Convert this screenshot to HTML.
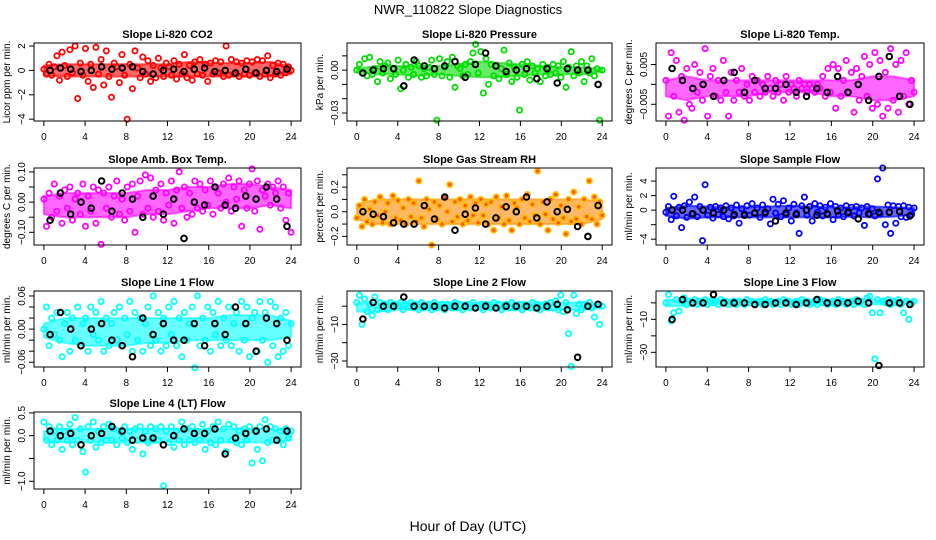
<!DOCTYPE html>
<html><head><meta charset="utf-8"><style>
html,body{margin:0;padding:0;background:#fff;}
svg{display:block;font-family:"Liberation Sans",Arial,sans-serif;}
</style></head><body>
<svg id="chart" width="936" height="540" viewBox="0 0 936 540" xmlns="http://www.w3.org/2000/svg">
<text x="468" y="14" font-size="13" text-anchor="middle">NWR_110822  Slope Diagnostics</text>
<text x="468" y="531" font-size="14" text-anchor="middle">Hour of Day (UTC)</text>
</svg>
<script>
// ---- data arrays ----
const xTicks = [0,4,8,12,16,20,24];
const bandHours = [0,2,4,6,8,10,12,14,16,18,20,22,24];
const co2Vals = [0.1,-0.3,0.5,-0.4,0.3,1.2,-0.8,1.5,0.4,-0.5,1.7,-0.2,2.0,-2.3,0.6,-0.4,1.8,-0.9,0.5,-1.4,1.9,-0.3,0.9,-1.2,1.6,-0.5,-2.2,0.6,0.3,-1.0,1.3,-0.4,-4.0,0.5,-1.5,1.6,0.2,-0.6,1.1,-0.3,0.8,-0.9,0.4,-0.6,1.0,0.2,-0.5,0.6,0.3,-0.4,0.8,-0.7,0.5,-0.3,1.3,-0.6,0.4,-0.8,0.7,-0.3,0.9,-0.4,0.5,-0.9,0.6,-0.3,0.8,-0.2,0.7,-0.5,2.0,-0.4,0.9,-0.3,0.7,-0.5,0.6,-0.3,0.8,-0.4,0.7,-0.2,0.9,-0.5,0.8,-0.3,1.2,-0.6,0.4,-0.3,0.6,-0.4,0.5,-0.2,0.3,0.0];
const co2Hourly = [0.0,0.2,0.1,-0.1,0.0,0.3,0.1,0.2,0.3,-0.1,-0.3,0.0,0.1,-0.1,0.1,0.2,-0.1,0.0,-0.2,0.1,-0.2,0.0,-0.1,0.1];
const co2BandLo = [-0.4,-0.5,-0.5,-0.5,-0.5,-0.5,-0.5,-0.5,-0.5,-0.5,-0.5,-0.5,-0.3];
const co2BandHi = [0.4,0.5,0.5,0.5,0.5,0.5,0.5,0.7,0.6,0.6,0.6,0.7,0.3];
const presVals = [0.0,0.004,-0.002,0.008,-0.004,0.009,-0.003,0.001,-0.008,0.006,-0.002,0.003,0.005,-0.006,0.001,-0.003,0.007,-0.013,0.0,0.004,-0.005,0.002,-0.003,0.006,0.003,-0.005,0.001,-0.004,0.002,0.007,-0.003,-0.035,0.008,-0.004,0.002,0.006,-0.005,0.009,-0.012,0.003,0.001,-0.004,0.004,-0.003,0.006,0.012,0.018,-0.002,0.013,-0.016,0.008,-0.010,0.004,-0.004,0.003,-0.006,0.001,0.014,-0.003,0.005,-0.008,0.002,-0.005,-0.028,0.004,-0.003,0.006,-0.007,0.003,-0.002,0.001,-0.008,0.004,-0.004,0.002,-0.003,0.004,-0.002,0.003,-0.005,0.006,-0.012,0.002,0.013,-0.004,0.003,-0.002,0.006,-0.008,0.003,-0.002,0.008,-0.004,0.001,-0.035,0.0];
const presHourly = [-0.002,0.0,0.001,0.001,-0.011,0.007,0.003,0.001,0.003,0.006,-0.005,0.004,0.012,0.003,-0.001,0.0,0.001,-0.006,0.001,-0.009,0.001,0.0,0.0,-0.010];
const presBandLo = [-0.001,-0.003,-0.003,-0.004,-0.003,-0.004,-0.005,-0.005,-0.004,-0.003,-0.003,-0.003,-0.001];
const presBandHi = [0.001,0.003,0.003,0.003,0.003,0.004,0.006,0.005,0.004,0.003,0.002,0.002,0.001];
const tempVals = [0.001,-0.008,0.008,-0.003,0.006,-0.007,0.002,-0.009,0.004,-0.005,-0.006,0.005,-0.002,0.003,-0.004,0.009,-0.008,0.002,0.004,-0.003,0.001,-0.004,0.006,-0.002,-0.008,0.003,-0.004,0.001,-0.002,0.004,-0.003,0.0,-0.004,0.002,-0.002,0.001,-0.003,0.0,-0.002,0.002,-0.001,-0.003,0.001,-0.002,0.0,-0.004,0.002,-0.002,0.0,-0.001,-0.003,0.001,-0.001,0.0,-0.002,0.0,-0.001,-0.002,0.0,-0.001,0.002,-0.003,0.004,-0.002,0.005,-0.006,0.004,-0.003,0.001,0.006,-0.002,0.003,-0.007,0.004,-0.004,0.002,0.007,-0.003,0.005,-0.006,0.008,-0.005,0.006,-0.008,0.003,-0.006,0.009,-0.004,0.005,-0.007,0.006,-0.003,0.008,-0.005,0.001,-0.002];
const tempHourly = [0.004,0.001,-0.001,0.0,-0.003,0.001,0.003,-0.002,0.001,-0.001,-0.001,0.0,-0.002,-0.003,-0.001,-0.002,0.002,-0.002,0.0,-0.004,0.002,0.007,-0.003,-0.005];
const tempBandLo = [-0.003,-0.004,-0.003,-0.003,-0.003,-0.002,-0.002,-0.002,-0.003,-0.003,-0.004,-0.004,-0.003];
const tempBandHi = [0.001,0.002,0.001,0.001,0.001,0.001,0.001,0.001,0.001,0.001,0.002,0.002,0.001];
const ambVals = [0.01,-0.08,0.03,-0.05,0.06,-0.03,0.02,-0.07,0.04,-0.02,0.05,-0.06,0.01,0.03,-0.04,0.06,-0.08,0.02,-0.03,0.05,-0.07,0.04,-0.14,0.03,-0.02,0.05,-0.05,0.02,0.07,-0.04,0.01,-0.06,0.05,-0.03,0.06,-0.10,0.02,0.07,-0.04,0.09,-0.02,0.08,-0.05,0.04,-0.03,0.06,-0.06,0.03,-0.01,0.07,-0.07,0.04,0.10,-0.02,0.05,-0.05,0.03,-0.04,0.07,-0.02,0.06,-0.03,0.04,-0.01,0.07,-0.04,0.05,0.03,-0.02,0.06,0.0,0.08,-0.03,0.05,0.01,0.07,-0.08,0.04,-0.02,0.06,0.11,-0.03,0.07,-0.09,0.04,0.02,0.06,-0.01,0.05,0.03,0.07,-0.02,0.05,-0.06,0.03,-0.10];
const ambHourly = [-0.06,0.03,-0.04,0.00,-0.02,0.07,-0.03,0.03,0.01,-0.05,0.02,-0.04,0.01,-0.12,0.00,-0.01,0.05,-0.01,-0.02,0.02,0.01,0.05,0.01,-0.08];
const ambBandLo = [-0.04,-0.05,-0.05,-0.05,-0.05,-0.04,-0.04,-0.03,-0.02,-0.02,-0.02,-0.01,-0.02];
const ambBandHi = [0.02,0.03,0.03,0.03,0.03,0.04,0.04,0.05,0.05,0.06,0.06,0.05,0.04];
const rhVals = [-0.05,0.05,-0.12,0.1,-0.08,0.02,-0.1,0.08,-0.03,0.12,-0.09,0.0,0.07,-0.1,0.13,-0.05,0.09,-0.07,0.03,-0.1,0.1,-0.04,0.07,-0.08,0.25,-0.05,-0.12,0.1,0.02,-0.27,0.08,-0.06,0.05,-0.1,0.12,0.0,0.22,-0.08,0.08,-0.04,0.1,-0.1,0.05,-0.07,0.12,-0.03,0.07,-0.09,0.1,-0.03,0.06,-0.1,0.08,-0.15,0.12,-0.05,0.04,-0.1,0.13,-0.07,-0.15,0.07,0.03,-0.1,0.1,-0.05,0.14,-0.08,0.06,-0.03,0.33,-0.1,0.08,-0.02,-0.15,0.1,-0.06,0.14,-0.09,0.05,-0.05,-0.18,0.1,-0.08,0.16,-0.06,0.04,-0.1,0.1,-0.04,0.25,-0.06,0.12,-0.1,0.08,-0.03];
const rhHourly = [0.0,-0.02,-0.04,-0.09,-0.1,-0.1,0.05,-0.06,0.12,-0.15,-0.02,0.03,-0.1,-0.05,0.04,0.0,0.12,-0.05,0.08,0.0,0.02,-0.12,-0.2,0.05];
const rhBandLo = [-0.06,-0.1,-0.1,-0.1,-0.1,-0.1,-0.1,-0.1,-0.1,-0.1,-0.1,-0.1,-0.06];
const rhBandHi = [0.06,0.1,0.1,0.1,0.1,0.1,0.1,0.1,0.1,0.1,0.1,0.1,0.08];
const sfVals = [-0.3,0.5,-1.3,1.9,-0.8,0.4,-2.4,0.6,-1.0,1.1,-0.5,1.8,-0.9,0.5,-4.2,3.5,-0.7,0.4,-1.1,0.5,-0.6,0.3,-0.9,0.6,-1.2,0.3,-0.8,0.7,-1.8,0.2,-0.5,0.6,-0.7,0.9,-0.4,0.3,-1.0,0.7,-0.5,0.2,-1.9,1.5,-0.4,0.8,-0.9,1.3,-0.6,0.3,-1.5,0.8,-0.4,-3.2,0.6,1.8,-0.7,0.5,-1.5,0.9,-0.3,0.6,-0.8,0.4,-0.6,0.9,-1.3,0.5,-0.7,0.3,-0.9,0.6,-0.4,0.4,-0.8,0.5,-0.4,0.3,-2.1,0.5,-0.6,0.2,-0.8,4.3,-0.5,5.8,-2.0,0.7,-3.2,0.6,-1.8,0.5,-0.9,0.6,-1.0,0.4,-0.6,0.3];
const sfHourly = [0.0,0.0,-0.5,0.0,-0.4,0.0,-0.6,-0.7,-0.4,-0.3,-1.5,-0.4,-0.6,0.0,-0.7,-0.5,-0.1,-0.3,-1.2,-0.5,-0.3,-0.3,-0.2,-0.8];
const sfBandLo = [-0.8,-1.2,-1.0,-1.0,-1.0,-1.0,-1.0,-1.0,-1.0,-0.9,-1.0,-0.9,-0.6];
const sfBandHi = [0.3,0.6,0.5,0.4,0.4,0.5,0.6,0.5,0.4,0.4,0.5,0.4,0.3];
const l1Vals = [0.0,0.04,-0.03,0.02,-0.01,0.03,-0.02,-0.05,0.01,0.03,-0.04,0.02,-0.02,0.04,-0.03,0.01,0.02,-0.04,0.04,-0.01,0.03,-0.02,0.05,-0.04,0.02,-0.03,0.01,0.03,-0.02,0.04,-0.03,0.02,-0.01,0.05,-0.04,0.03,-0.02,0.02,-0.04,0.01,0.04,-0.03,0.06,-0.02,0.03,-0.04,0.02,-0.03,0.04,-0.01,0.05,-0.03,0.02,-0.05,0.03,-0.02,0.01,0.04,-0.07,0.06,-0.03,0.02,-0.02,0.04,-0.04,0.03,-0.01,0.05,-0.03,0.02,-0.02,0.04,-0.03,0.01,0.03,-0.04,0.05,-0.02,0.04,-0.05,0.02,0.03,-0.04,0.05,-0.02,0.03,-0.06,0.05,-0.03,0.04,-0.05,0.02,-0.04,0.03,-0.03,0.01];
const l1Hourly = [-0.01,0.03,0.0,-0.03,0.00,0.01,-0.02,-0.03,-0.05,0.02,-0.01,0.01,-0.02,-0.02,0.01,-0.03,0.01,-0.01,0.04,0.01,-0.04,0.02,0.01,-0.02];
const l1BandLo = [-0.015,-0.025,-0.03,-0.03,-0.03,-0.025,-0.025,-0.02,-0.02,-0.02,-0.02,-0.02,-0.015];
const l1BandHi = [0.01,0.02,0.02,0.02,0.02,0.02,0.02,0.02,0.02,0.025,0.025,0.025,0.015];
const l2Vals = [2,6,-10,4,-3,1,-5,5,-2,2,-1,1,-2,2,-1,1,0,2,-2,1,0,2,-1,1,-2,2,-1,0,1,-2,2,-1,0,1,-2,1,0,-1,2,-1,1,-2,0,1,-1,2,-1,0,1,-2,1,0,-1,2,-1,1,-2,0,1,-1,2,-1,0,1,-2,1,0,-1,2,-1,1,-2,0,1,-1,2,-1,3,-2,6,-3,2,-15,-33,6,-4,1,-2,1,0,2,-1,-6,1,-10,0];
const l2Hourly = [-7,2,0,0,5,0,0,0,-1,0,0,-1,0,-1,0,0,0,-1,0,1,-2,-28,0,1];
const l2BandLo = [-3,-3,-2,-2,-2,-2,-2,-2,-2,-2,-2,-2,-1];
const l2BandHi = [2,2,2,2,2,2,2,2,2,2,2,2,1];
const l3Vals = [0,5,-11,-6,2,-5,1,3,-1,1,0,2,-1,1,0,2,-1,1,0,1,-1,2,0,1,-1,0,1,-1,1,0,-1,2,0,1,-1,0,1,-1,2,0,1,-1,0,1,-1,2,0,1,-1,0,1,-1,2,0,1,-1,0,1,-1,2,0,1,-1,0,1,-1,2,0,1,-1,0,1,-1,2,0,1,-1,3,4,-6,-34,2,-6,1,0,2,-1,1,0,2,-1,-6,1,-10,0,1];
const l3Hourly = [-10,2,0,0,5,0,0,0,-1,-1,0,0,-1,0,2,0,0,0,1,0,-38,0,0,-1];
const l3BandLo = [-2,-2,-1,-1,-1,-1,-1,-1,-1,-1,-1,-1,-1];
const l3BandHi = [2,2,2,2,2,2,2,2,2,2,2,2,1];
const l4Vals = [0.3,-0.1,0.2,-0.2,0.1,-0.1,0.2,-0.3,0.1,-0.1,0.25,-0.2,0.4,-0.1,0.15,-0.35,-0.8,0.2,-0.1,0.3,-0.25,0.1,-0.15,0.2,-0.1,0.25,-0.1,0.15,-0.2,0.1,-0.05,0.2,-0.15,0.1,-0.3,0.15,-0.1,0.2,-0.4,0.1,-0.15,0.2,-0.1,0.15,-0.1,0.2,-1.1,0.1,-0.15,0.2,-0.25,0.1,-0.1,0.3,-0.2,0.15,-0.1,0.2,-0.15,0.1,-0.1,0.25,-0.3,0.1,-0.15,0.2,-0.2,0.3,-0.1,0.15,-0.35,0.25,-0.1,0.2,-0.15,0.1,-0.2,0.15,-0.1,0.2,-0.6,0.1,-0.3,0.2,-0.55,0.35,-0.15,0.2,-0.1,0.15,-0.1,0.1,-0.2,0.15,-0.05,0.1];
const l4Hourly = [0.1,0.0,0.05,-0.2,0.0,0.05,0.2,0.1,-0.1,-0.05,-0.05,-0.2,0.0,0.15,0.05,0.05,0.15,-0.4,-0.05,0.05,0.1,0.15,-0.1,0.1];
const l4BandLo = [-0.1,-0.15,-0.15,-0.15,-0.15,-0.15,-0.15,-0.15,-0.15,-0.15,-0.15,-0.15,-0.1];
const l4BandHi = [0.1,0.15,0.15,0.15,0.15,0.15,0.15,0.15,0.15,0.15,0.15,0.15,0.1];

// ---- layout ----
const NS = "http://www.w3.org/2000/svg";
const svg = document.getElementById('chart');
const cols = [[34,301],[347,612],[656,924]];
const rows = [[43,121],[168,245],[291,367],[412,489]];
const panels = [
 {name:'co2',title:'Slope Li-820 CO2',ylab:'Licor ppm per min.',c:0,r:0,y0:-4.15,y1:2.25,ticks:[2,0,-2,-4],labels:['2','0','\u22122','\u22124'],vals:co2Vals,hr:co2Hourly,lo:co2BandLo,hi:co2BandHi,col:'#ff0000',fill:'none',band:'#ff0000'},
 {name:'pressure',title:'Slope Li-820 Pressure',ylab:'kPa per min.',c:1,r:0,y0:-0.0356,y1:0.019,ticks:[0.01,0,-0.01,-0.02,-0.03],labels:['','0.00','','','\u22120.03'],vals:presVals,hr:presHourly,lo:presBandLo,hi:presBandHi,col:'#00dd00',fill:'none',band:'#00dd00'},
 {name:'li820-temp',title:'Slope Li-820 Temp.',ylab:'degrees C per min.',c:2,r:0,y0:-0.0092,y1:0.0104,ticks:[0.005,0,-0.005],labels:['0.005','','\u22120.005'],vals:tempVals,hr:tempHourly,lo:tempBandLo,hi:tempBandHi,col:'#ff00ff',fill:'none',band:'#ff00ff'},
 {name:'amb-box-temp',title:'Slope Amb. Box Temp.',ylab:'degrees C per min.',c:0,r:1,y0:-0.142,y1:0.113,ticks:[0.1,0.05,0,-0.05,-0.1],labels:['0.10','','0.00','','\u22120.10'],vals:ambVals,hr:ambHourly,lo:ambBandLo,hi:ambBandHi,col:'#ff00ff',fill:'none',band:'#ff00ff'},
 {name:'gas-stream-rh',title:'Slope Gas Stream RH',ylab:'percent per min.',c:1,r:1,y0:-0.27,y1:0.355,ticks:[0.3,0.2,0.1,0,-0.1,-0.2],labels:['','0.2','','0.0','','\u22120.2'],vals:rhVals,hr:rhHourly,lo:rhBandLo,hi:rhBandHi,col:'#ffbb00',fill:'#ff5500',band:'#ff8a00'},
 {name:'sample-flow',title:'Slope Sample Flow',ylab:'ml/min per min.',c:2,r:1,y0:-4.8,y1:5.8,ticks:[4,2,0,-2,-4],labels:['4','2','0','','\u22124'],vals:sfVals,hr:sfHourly,lo:sfBandLo,hi:sfBandHi,col:'#0000ff',fill:'none',band:'#0000ff'},
 {name:'line1-flow',title:'Slope Line 1 Flow',ylab:'ml/min per min.',c:0,r:2,y0:-0.0686,y1:0.069,ticks:[0.06,0.04,0.02,0,-0.02,-0.04,-0.06],labels:['0.06','','','0.00','','','\u22120.06'],vals:l1Vals,hr:l1Hourly,lo:l1BandLo,hi:l1BandHi,col:'#00ffff',fill:'none',band:'#00ffff'},
 {name:'line2-flow',title:'Slope Line 2 Flow',ylab:'ml/min per min.',c:1,r:2,y0:-33.3,y1:8.3,ticks:[0,-10,-20,-30],labels:['','\u221210','','\u221230'],vals:l2Vals,hr:l2Hourly,lo:l2BandLo,hi:l2BandHi,col:'#00ffff',fill:'none',band:'#00ffff'},
 {name:'line3-flow',title:'Slope Line 3 Flow',ylab:'ml/min per min.',c:2,r:2,y0:-38.9,y1:7.2,ticks:[0,-10,-20,-30],labels:['','\u221210','','\u221230'],vals:l3Vals,hr:l3Hourly,lo:l3BandLo,hi:l3BandHi,col:'#00ffff',fill:'none',band:'#00ffff'},
 {name:'line4-flow',title:'Slope Line 4 (LT) Flow',ylab:'ml/min per min.',c:0,r:3,y0:-1.17,y1:0.52,ticks:[0.5,0,-0.5,-1],labels:['0.5','0.0','','\u22121.0'],vals:l4Vals,hr:l4Hourly,lo:l4BandLo,hi:l4BandHi,col:'#00ffff',fill:'none',band:'#00ffff'}
];

function mk(tag, attrs, parent){
  const e = document.createElementNS(NS, tag);
  for (const k in attrs) e.setAttribute(k, attrs[k]);
  (parent||svg).appendChild(e);
  return e;
}

panels.forEach(p=>{
  const [L,R] = cols[p.c], [T,B] = rows[p.r];
  const xs = v => L + (v + 0.96) / 25.92 * (R - L);
  const ys = v => B - (v - p.y0) / (p.y1 - p.y0) * (B - T);
  const g = mk('g', {});
  
  

  const t = mk('text', {x:(L+R)/2, y:T-5, 'font-size':11, 'font-weight':'bold', 'text-anchor':'middle'}, g);
  t.textContent = p.title;
  
  

  // dense core band of the point cloud
  let d = '';
  bandHours.forEach((h,i)=>{ d += (i?'L':'M') + xs(h).toFixed(1) + ' ' + ys(p.hi[i]).toFixed(1); });
  for (let i = bandHours.length-1; i >= 0; i--) d += 'L' + xs(bandHours[i]).toFixed(1) + ' ' + ys(p.lo[i]).toFixed(1);
  d += 'Z';
  const band = mk('path', {d:d, fill:p.band, 'fill-opacity':0.6, stroke:p.band, 'stroke-width':2, 'stroke-linejoin':'round', 'stroke-opacity':0.6}, g);
  
  

  // colored points
  const pts = mk('g', {fill:p.fill, stroke:p.col, 'stroke-width':1.8}, g);
  
  
  const n = p.vals.length;
  p.vals.forEach((v,i)=>{
    const c = mk('circle', {cx:xs(24*i/(n-1)).toFixed(1), cy:ys(v).toFixed(1), r:2.6}, pts);
    
    
  });
  // hourly black points
  const hg = mk('g', {fill:'none', stroke:'#000', 'stroke-width':2}, g);
  
  
  const m = p.hr.length;
  p.hr.forEach((v,i)=>{
    const c = mk('circle', {cx:xs(24*(i+0.6)/m).toFixed(1), cy:ys(v).toFixed(1), r:2.8}, hg);
    
    
  });

  // box
  const bx = mk('rect', {x:L, y:T, width:R-L, height:B-T, fill:'none', stroke:'#000', 'stroke-width':1}, g);
  
  

  // x axis
  const xa = mk('g', {}, g);
  
  
  xTicks.forEach(v=>{
    mk('line', {x1:xs(v), x2:xs(v), y1:B, y2:B+5, stroke:'#000'}, xa);
    const tl = mk('text', {x:xs(v), y:B+19, 'font-size':10, 'text-anchor':'middle'}, xa);
    tl.textContent = v;
    
    
  });

  // y axis
  const ya = mk('g', {}, g);
  
  
  p.ticks.forEach((v,i)=>{
    const y = ys(v);
    mk('line', {x1:L-5, x2:L, y1:y, y2:y, stroke:'#000'}, ya);
    if (p.labels[i]) {
      const tl = mk('text', {x:L-9, y:y, 'font-size':10, 'text-anchor':'middle', transform:`rotate(-90 ${L-9} ${y})`}, ya);
      tl.textContent = p.labels[i];
      
      
    }
  });
  const yl = mk('text', {x:L-24, y:(T+B)/2, 'font-size':10, 'text-anchor':'middle', transform:`rotate(-90 ${L-24} ${(T+B)/2})`}, g);
  yl.textContent = p.ylab;
  
  
});
</script>
</body></html>
